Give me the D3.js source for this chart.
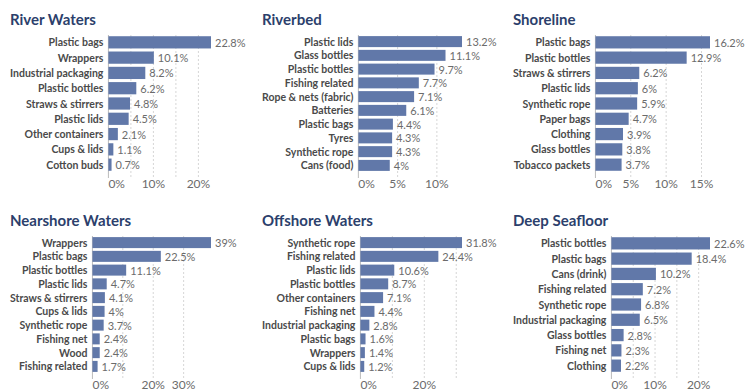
<!DOCTYPE html>
<html>
<head>
<meta charset="utf-8">
<script src="https://cdn.jsdelivr.net/npm/d3@7"></script>
<style>
  html, body { margin: 0; padding: 0; background: #fff; }
  svg { display: block; font-family: Lato, "Noto Sans", sans-serif; }
</style>
</head>
<body>
<svg id="chart" width="745" height="392"></svg>
<script>
// Share of litter items (%) by environment
const riverWatersItems = ["Plastic bags", "Wrappers", "Industrial packaging", "Plastic bottles", "Straws & stirrers", "Plastic lids", "Other containers", "Cups & lids", "Cotton buds"];
const riverWatersValues = [22.8, 10.1, 8.2, 6.2, 4.8, 4.5, 2.1, 1.1, 0.7];

const riverbedItems = ["Plastic lids", "Glass bottles", "Plastic bottles", "Fishing related", "Rope & nets (fabric)", "Batteries", "Plastic bags", "Tyres", "Synthetic rope", "Cans (food)"];
const riverbedValues = [13.2, 11.1, 9.7, 7.7, 7.1, 6.1, 4.4, 4.3, 4.3, 4];

const shorelineItems = ["Plastic bags", "Plastic bottles", "Straws & stirrers", "Plastic lids", "Synthetic rope", "Paper bags", "Clothing", "Glass bottles", "Tobacco packets"];
const shorelineValues = [16.2, 12.9, 6.2, 6, 5.9, 4.7, 3.9, 3.8, 3.7];

const nearshoreItems = ["Wrappers", "Plastic bags", "Plastic bottles", "Plastic lids", "Straws & stirrers", "Cups & lids", "Synthetic rope", "Fishing net", "Wood", "Fishing related"];
const nearshoreValues = [39, 22.5, 11.1, 4.7, 4.1, 4, 3.7, 2.4, 2.4, 1.7];

const offshoreItems = ["Synthetic rope", "Fishing related", "Plastic lids", "Plastic bottles", "Other containers", "Fishing net", "Industrial packaging", "Plastic bags", "Wrappers", "Cups & lids"];
const offshoreValues = [31.8, 24.4, 10.6, 8.7, 7.1, 4.4, 2.8, 1.6, 1.4, 1.2];

const deepSeafloorItems = ["Plastic bottles", "Plastic bags", "Cans (drink)", "Fishing related", "Synthetic rope", "Industrial packaging", "Glass bottles", "Fishing net", "Clothing"];
const deepSeafloorValues = [22.6, 18.4, 10.2, 7.2, 6.8, 6.5, 2.8, 2.3, 2.2];

const panelTitles = ["River Waters", "Riverbed", "Shoreline", "Nearshore Waters", "Offshore Waters", "Deep Seafloor"];

// Labelled axis ticks and gridline positions (%), per panel
const tickLabels = [[0, 10, 20], [0, 5, 10], [0, 5, 10, 15], [0, 20, 30], [0, 20], [0, 10, 20]];
const gridTicks = [[5, 10, 15, 20], [5, 10], [5, 10, 15], [10, 20, 30], [10, 20, 30], [5, 10, 15, 20]];

const panels = [
  { items: riverWatersItems, values: riverWatersValues },
  { items: riverbedItems, values: riverbedValues },
  { items: shorelineItems, values: shorelineValues },
  { items: nearshoreItems, values: nearshoreValues },
  { items: offshoreItems, values: offshoreValues },
  { items: deepSeafloorItems, values: deepSeafloorValues }
];

const svg = d3.select("#chart");
const colLeft = [10, 262, 513];
const colSpan = [201, 200, 197];   // label column + bars, per column
const rowTop = [0, 201];
const barColor = "#6178a9";

panels.forEach((p, i) => {
  const col = i % 3;
  const left = colLeft[col];
  const top = rowTop[Math.floor(i / 3)];
  const g = svg.append("g").attr("transform", `translate(${left},${top})`);

  g.append("text")
    .attr("x", 0).attr("y", 25)
    .attr("font-size", 15).attr("font-weight", 700)
    .attr("fill", "#2c3f6c")
    .text(panelTitles[i]);

  // Category labels, measured to set the start of the bar area
  const labels = g.append("g").selectAll("text").data(p.items).join("text")
    .attr("font-size", 10.5).attr("font-weight", 700).attr("fill", "#4a4a4a")
    .attr("text-anchor", "end").attr("dominant-baseline", "central")
    .text(d => d);
  let maxW = 0;
  labels.each(function () { maxW = Math.max(maxW, this.getComputedTextLength()); });
  const x0 = maxW + 5;

  const x = d3.scaleLinear().domain([0, d3.max(p.values)]).range([x0, colSpan[col]]);
  const y = d3.scaleBand().domain(p.items).range([35, 172]).paddingInner(0.2).paddingOuter(0.08);

  labels.attr("x", x0 - 5).attr("y", d => y(d) + y.bandwidth() / 2);

  // Dotted gridlines
  g.append("g").selectAll("line").data(gridTicks[i]).join("line")
    .attr("x1", d => x(d)).attr("x2", d => x(d))
    .attr("y1", 35).attr("y2", 178)
    .attr("stroke", "#d6d6d6").attr("stroke-dasharray", "2,2");

  // Zero line
  g.append("line")
    .attr("x1", x(0)).attr("x2", x(0)).attr("y1", 35).attr("y2", 178)
    .attr("stroke", "#bbb");

  const rows = p.items.map((d, k) => ({ item: d, value: p.values[k] }));
  g.append("g").selectAll("rect").data(rows).join("rect")
    .attr("x", x(0)).attr("y", d => y(d.item))
    .attr("width", d => x(d.value) - x(0)).attr("height", y.bandwidth())
    .attr("fill", barColor);

  g.append("g").selectAll("text").data(rows).join("text")
    .attr("x", d => x(d.value) + 4).attr("y", d => y(d.item) + y.bandwidth() / 2)
    .attr("dominant-baseline", "central")
    .attr("font-size", 11).attr("fill", "#6b6b6b")
    .text(d => d.value + "%");

  g.append("g").selectAll("text").data(tickLabels[i]).join("text")
    .attr("x", d => x(d)).attr("y", 188)
    .attr("text-anchor", d => d === 0 ? "start" : "middle")
    .attr("font-size", 12).attr("fill", "#6b6b6b")
    .text(d => d + "%");
});
</script>
</body>
</html>
